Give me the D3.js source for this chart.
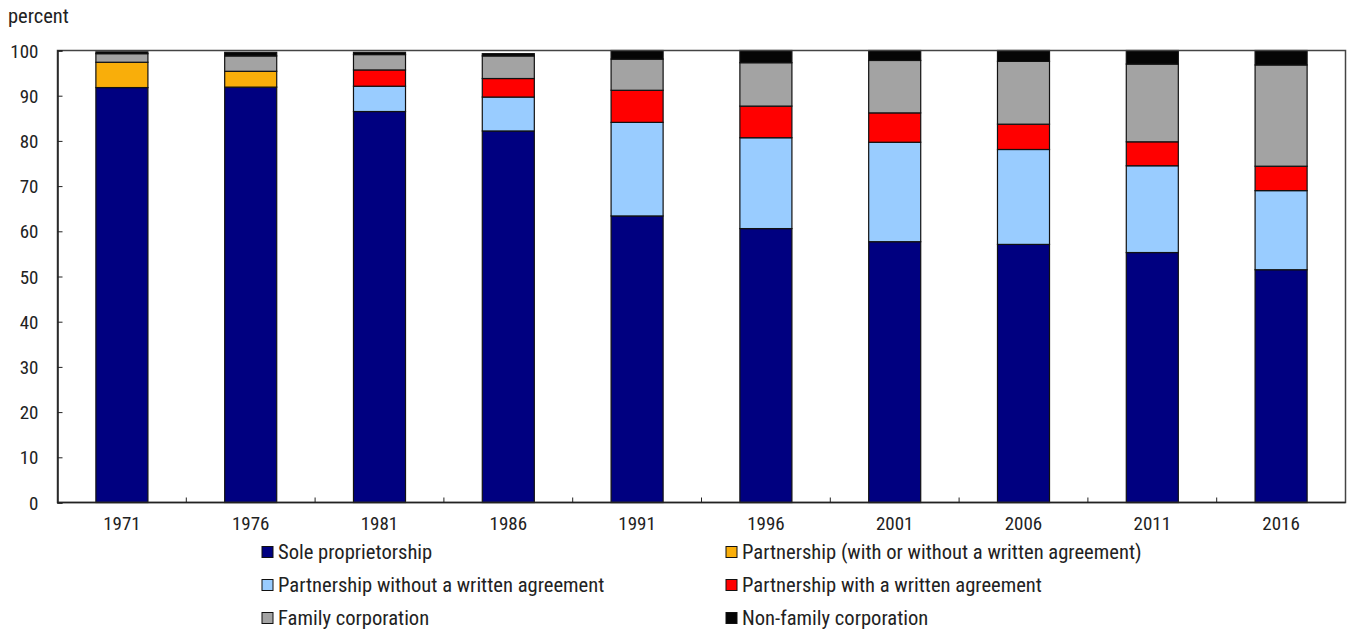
<!DOCTYPE html>
<html><head><meta charset="utf-8">
<script src="https://cdn.jsdelivr.net/npm/d3@7"></script>
<style>
html,body{margin:0;padding:0;background:#fff;}
text{font-family:"Liberation Sans Narrow","Arial Narrow","Roboto Condensed","Liberation Sans",sans-serif;fill:#222;}
</style></head>
<body>
<svg id="chart" width="1348" height="629"></svg>
<script>
const years = ["1971","1976","1981","1986","1991","1996","2001","2006","2011","2016"];
const seriesNames = ["Sole proprietorship","Partnership (with or without a written agreement)","Partnership without a written agreement","Partnership with a written agreement","Family corporation","Non-family corporation"];
const seriesColors = ["#000080","#F9AE0A","#99CCFF","#FF0000","#A3A3A3","#050505"];
const soleProp   = [91.8,91.9,86.5,82.2,63.4,60.6,57.7,57.1,55.3,51.5];
const partAny    = [5.6,3.5,0,0,0,0,0,0,0,0];
const partNoWrit = [0,0,5.6,7.5,20.7,20.1,22.0,21.0,19.2,17.5];
const partWrit   = [0,0,3.6,4.1,7.1,7.0,6.5,5.6,5.3,5.4];
const familyCorp = [1.9,3.4,3.4,5.0,6.9,9.6,11.6,13.9,17.2,22.4];
const nonFamCorp = [0.4,0.8,0.5,0.5,1.9,2.7,2.2,2.4,3.0,3.2];
const yTicks = [0,10,20,30,40,50,60,70,80,90,100];

const seriesVals = [soleProp,partAny,partNoWrit,partWrit,familyCorp,nonFamCorp];
const keys = seriesNames;
const rows = years.map((y,i)=>{const o={year:y}; keys.forEach((k,j)=>o[k]=seriesVals[j][i]); return o;});
const stack = d3.stack().keys(keys)(rows);

const svg = d3.select("#chart");
const L=57.5, R=1345.5, T=50.5, B=502.5;
const x = d3.scaleBand().domain(years).range([L,R]).paddingInner(0.596).paddingOuter(0.298);
const y = d3.scaleLinear().domain([0,100]).range([B,T]);

// bars
svg.append("g").selectAll("g").data(stack).join("g")
  .attr("fill",(d,i)=>seriesColors[i])
  .selectAll("rect").data(d=>d.filter(s=>s[1]-s[0]>0)).join("rect")
  .attr("x",d=>x(d.data.year))
  .attr("width",x.bandwidth())
  .attr("y",d=>y(d[1]))
  .attr("height",d=>y(d[0])-y(d[1]))
  .attr("stroke","#111").attr("stroke-width",1.2);

// frame
svg.append("rect").attr("x",L).attr("y",T).attr("width",R-L).attr("height",B-T)
  .attr("fill","none").attr("stroke","#444").attr("stroke-width",1.5);

// y axis
const yAxis = d3.axisLeft(y).tickValues(yTicks).tickSize(-5).tickPadding(19);
const gy = svg.append("g").attr("transform",`translate(${L},0)`).call(yAxis);
gy.select(".domain").attr("stroke","#222").attr("stroke-width",1.5);
gy.selectAll(".tick line").attr("stroke","#222");
gy.selectAll(".tick text").attr("font-size",19).attr("fill","#222").attr("dy","0.35em");

// x axis
const gx = svg.append("g").attr("transform",`translate(0,${B})`);
gx.append("line").attr("x1",L).attr("x2",R).attr("stroke","#222").attr("stroke-width",1.5);
const step = x.step();
years.slice(1).forEach(yr=>{
  const xb = x(yr)+x.bandwidth()/2 - step/2;
  gx.append("line").attr("x1",xb).attr("x2",xb).attr("y1",0).attr("y2",-5).attr("stroke","#222");
});
gx.selectAll("text").data(years).join("text")
  .attr("x",d=>x(d)+x.bandwidth()/2).attr("y",27)
  .attr("text-anchor","middle").attr("font-size",19).text(d=>d);

svg.append("text").attr("x",8).attr("y",23).attr("font-size",20.5).text("percent");

// legend
const legOrder=[0,1,2,3,4,5];
const legPos = legOrder.map(i=>({col:i%2,row:Math.floor(i/2)}));
const lg = svg.append("g");
legOrder.forEach((si,k)=>{
  const p=legPos[k];
  const lx = p.col===0?262:726;
  const ly = 552 + p.row*33;
  lg.append("rect").attr("x",lx).attr("y",ly-5.5).attr("width",11).attr("height",11)
    .attr("fill",seriesColors[si]).attr("stroke","#111").attr("stroke-width",1);
  lg.append("text").attr("x",lx+16).attr("y",ly).attr("dy","0.35em").attr("font-size",20.6).text(seriesNames[si]);
});
</script>
</body></html>
